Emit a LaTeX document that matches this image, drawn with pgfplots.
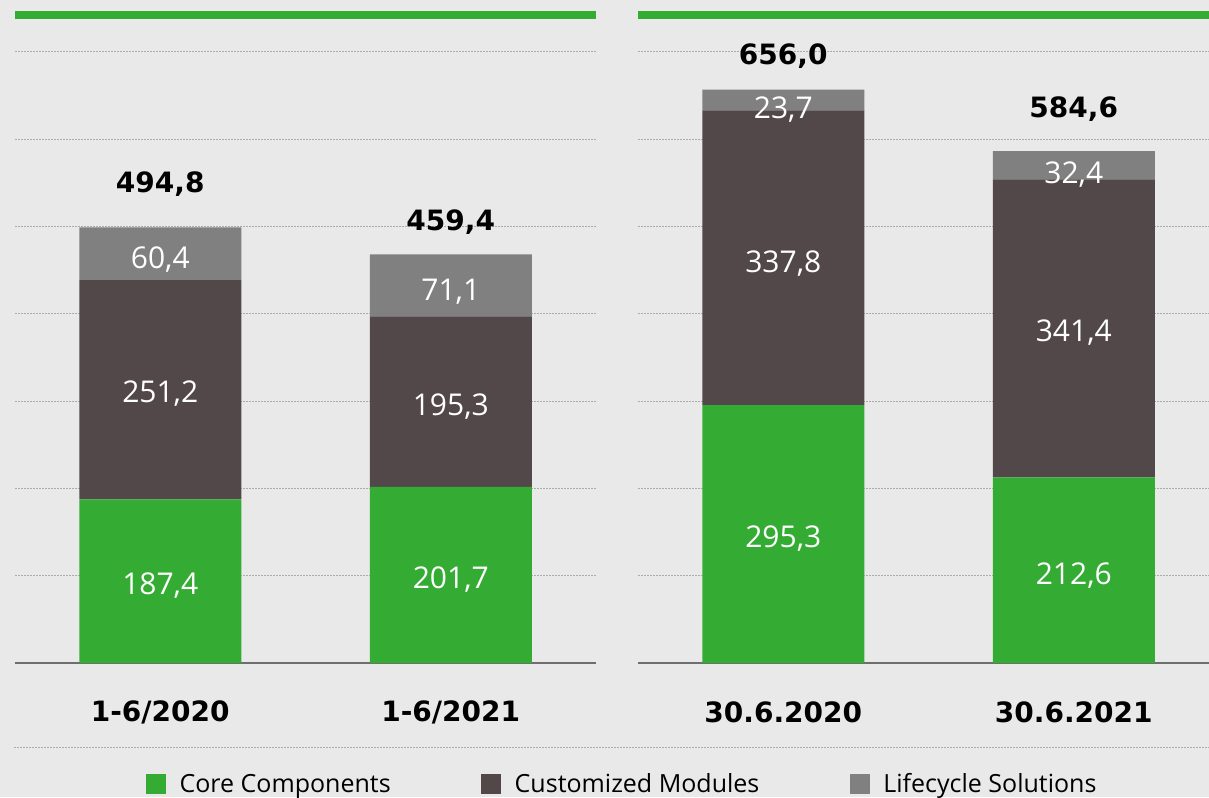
\documentclass[border=0pt]{standalone}
\usepackage{fontspec}
\setmainfont{Open Sans}
\newfontfamily\heavy{DejaVu Sans}
\usepackage{pgfplots}
\pgfplotsset{compat=1.18}
\definecolor{bg}{HTML}{E9E9E9}
\definecolor{cgreen}{HTML}{34AC34}
\definecolor{cbrown}{HTML}{524849}
\definecolor{cgray}{HTML}{808080}
\definecolor{gridc}{HTML}{ABABAB}
\definecolor{basec}{HTML}{6E6E6E}
\newcommand{\catfont}{\heavy\bfseries\fontsize{21}{21}\selectfont}
\newcommand{\valfont}{\fontsize{22.5}{22.5}\selectfont}
\pgfplotsset{
  panel/.style={
    scale only axis, width=435.75pt, height=486pt,
    xmin=-0.5, xmax=1.5, ymin=0, ymax=742.3,
    anchor=south west,
  },
  barpanel/.style={
    panel,
    ybar stacked, bar width=121.5pt,
    axis x line*=bottom, axis y line*=left,
    x axis line style={basec, line width=1.5pt},
    y axis line style={draw=none},
    ytick={100,200,...,700}, yticklabels={},
    ymajorgrids, grid style={gridc, dash pattern=on 1.5pt off 0.75pt, line width=0.75pt},
    xtick={0,1}, major tick length=0pt,
    xticklabel style={font=\catfont, anchor=center, yshift=-36.75pt},
    after end axis/.code={\draw[cgreen, line width=6pt] (rel axis cs:0,1) -- (rel axis cs:1,1);},
  },
  labelpanel/.style={panel, hide axis, clip=false},
  vals/.style={draw=none, mark=none, nodes near coords, point meta=explicit symbolic,
    every node near coord/.append style={anchor=center, text=white, font=\valfont, inner sep=0pt}},
  tots/.style={draw=none, mark=none, nodes near coords, point meta=explicit symbolic,
    every node near coord/.append style={anchor=center, text=black, font=\catfont, inner sep=0pt}},
}
\begin{document}
\begin{tikzpicture}
\useasboundingbox (0,0) rectangle (906.75pt,597.75pt);
\clip (0,0) rectangle (906.75pt,597.75pt);
\fill[bg] (0,0) rectangle (906.75pt,597.75pt);
\draw[gridc, dash pattern=on 1.5pt off 0.75pt, line width=0.75pt] (10.5pt,37.5pt) -- (906.75pt,37.5pt);

% left panel
\begin{axis}[barpanel, at={(11.25pt,100.5pt)}, xticklabels={1-6/2020,1-6/2021},
  legend columns=3,
  legend style={at={(axis description cs:0.2255,-0.1867)}, anchor=west, draw=none, fill=none,
    font=\fontsize{18.75}{18.75}\selectfont, inner sep=0pt,
    /tikz/every even column/.append style={column sep=66pt}},
  legend image code/.code={\fill[#1] (0pt,-7.5pt) rectangle (15pt,7.5pt); \path (23pt,0pt);},
]
\addplot[fill=cgreen, draw=none] coordinates {(0,187.4) (1,201.7)};
\addplot[fill=cbrown, draw=none] coordinates {(0,251.2) (1,195.3)};
\addplot[fill=cgray, draw=none] coordinates {(0,60.4) (1,71.1)};
\legend{Core Components, Customized Modules, Lifecycle Solutions}
\end{axis}
\begin{axis}[labelpanel, at={(11.25pt,100.5pt)}]
\addplot[vals] table[meta=l] {
x y l
0 88.5 187,4
0 308.4 251,2
0 462.5 60,4
1 95.4 201,7
1 293.5 195,3
1 425.3 71,1
};
\addplot[tots] table[meta=l] {
x y l
0 549 494,8
1 505.4 459,4
};
\end{axis}

% right panel
\begin{axis}[barpanel, at={(478.5pt,100.5pt)}, xticklabels={30.6.2020,30.6.2021}]
\addplot[fill=cgreen, draw=none] coordinates {(0,295.3) (1,212.6)};
\addplot[fill=cbrown, draw=none] coordinates {(0,337.8) (1,341.4)};
\addplot[fill=cgray, draw=none] coordinates {(0,23.7) (1,32.4)};
\end{axis}
\begin{axis}[labelpanel, at={(478.5pt,100.5pt)}]
\addplot[vals] table[meta=l] {
x y l
0 142.3 295,3
0 457.3 337,8
0 633.7 23,7
1 100 212,6
1 378.3 341,4
1 559 32,4
};
\addplot[tots] table[meta=l] {
x y l
0 695.6 656,0
1 634.4 584,6
};
\end{axis}
\end{tikzpicture}
\end{document}
